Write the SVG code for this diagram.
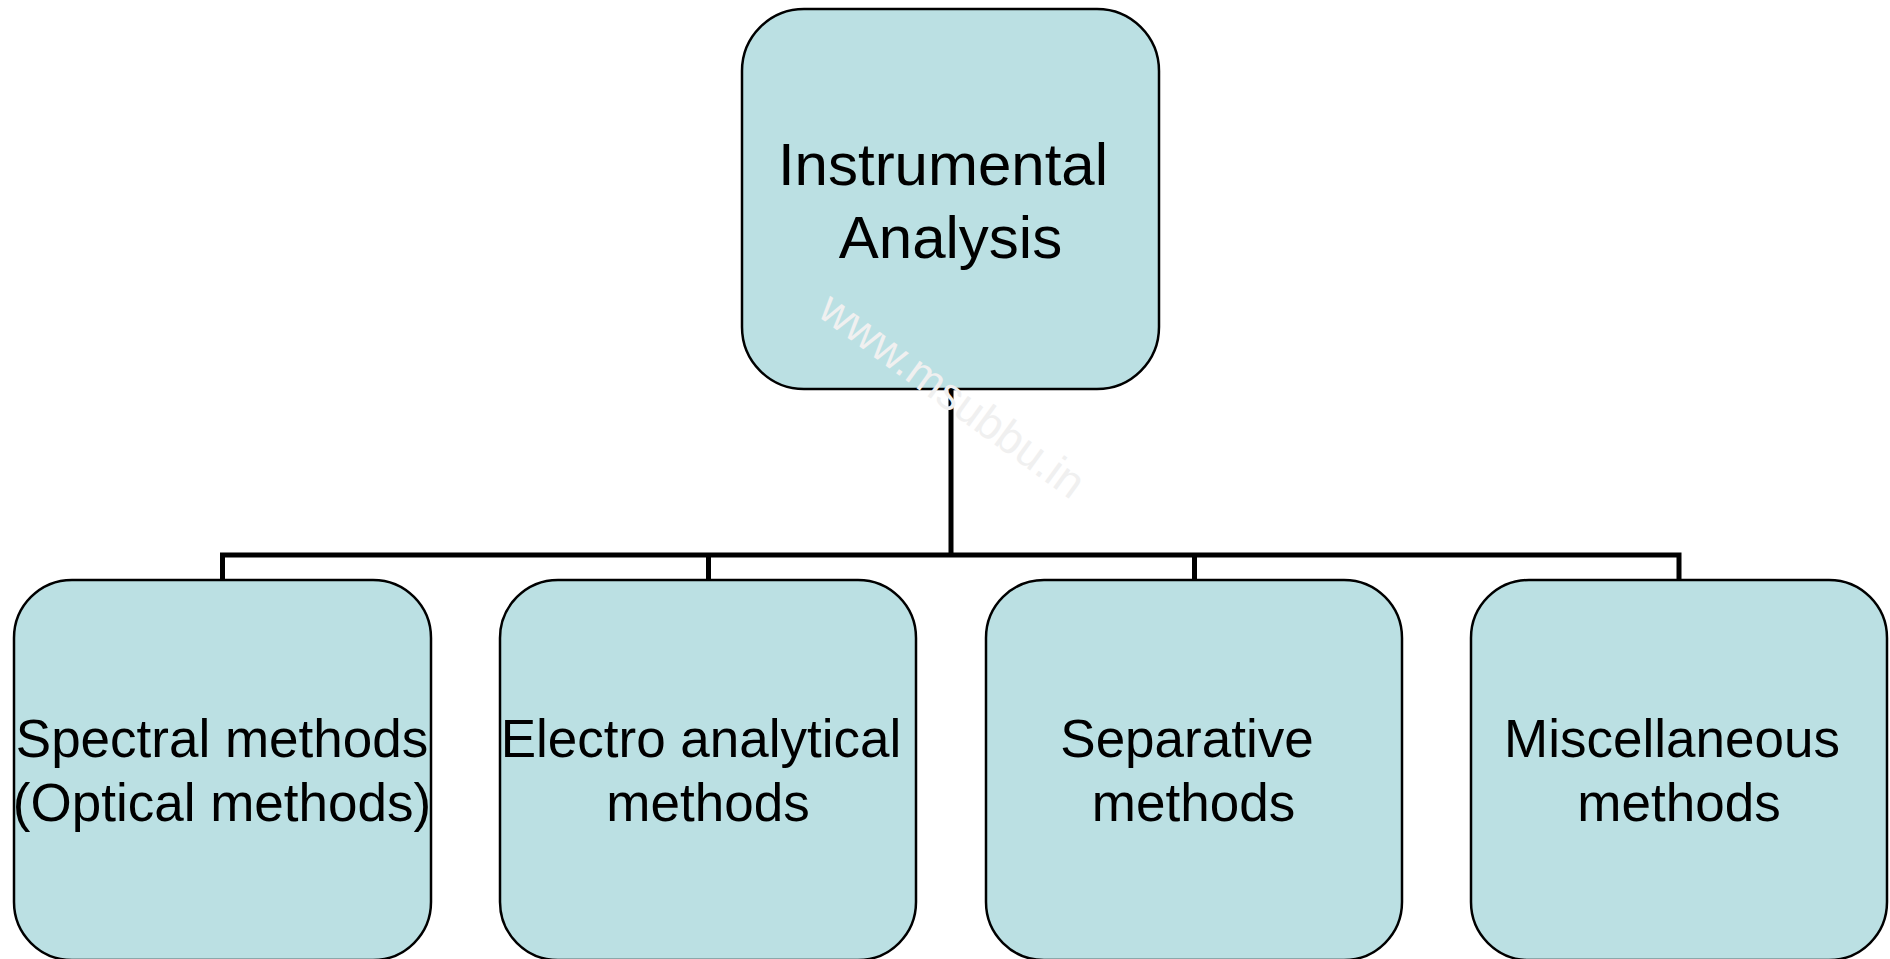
<svg xmlns="http://www.w3.org/2000/svg" width="1890" height="959" viewBox="0 0 1890 959">
<style>
.box{fill:#BBE0E3;stroke:#000;stroke-width:2.5}
.lbl{font-family:"Liberation Sans",Arial,sans-serif;fill:#000;text-anchor:middle}
.top{font-size:60px}
.sub{font-size:53px}
.conn{fill:none;stroke:#000;stroke-width:5}
.wm{font-family:"Liberation Sans",Arial,sans-serif;font-size:45px;fill:#F0F0F0}
</style>
<rect width="1890" height="959" fill="#fff"/>
<g id="connectors">
<path class="conn" d="M951 389 V555"/>
<path class="conn" d="M222.5 580 V555 H1679 V580"/>
<path class="conn" d="M708.5 555 V580"/>
<path class="conn" d="M1194.5 555 V580"/>
</g>
<g id="root">
<rect class="box" x="742" y="9" width="417" height="380" rx="62" ry="62"/>
<text class="lbl top" x="943" y="185">Instrumental</text>
<text class="lbl top" x="950.5" y="258">Analysis</text>
</g>
<g id="spectral">
<rect class="box" x="14" y="580" width="417" height="380" rx="58" ry="58"/>
<text class="lbl sub" x="222" y="757">Spectral methods</text>
<text class="lbl sub" x="222" y="821">(Optical methods)</text>
</g>
<g id="electro">
<rect class="box" x="500" y="580" width="416" height="380" rx="58" ry="58"/>
<text class="lbl sub" x="701" y="757">Electro analytical</text>
<text class="lbl sub" x="708" y="821">methods</text>
</g>
<g id="separative">
<rect class="box" x="986" y="580" width="416" height="380" rx="58" ry="58"/>
<text class="lbl sub" x="1187" y="757">Separative</text>
<text class="lbl sub" x="1193.5" y="821">methods</text>
</g>
<g id="misc">
<rect class="box" x="1471" y="580" width="416" height="380" rx="58" ry="58"/>
<text class="lbl sub" x="1672" y="757">Miscellaneous</text>
<text class="lbl sub" x="1679" y="821">methods</text>
</g>
<text class="wm" transform="translate(816 315) rotate(36)">www.msubbu.in</text>
</svg>
